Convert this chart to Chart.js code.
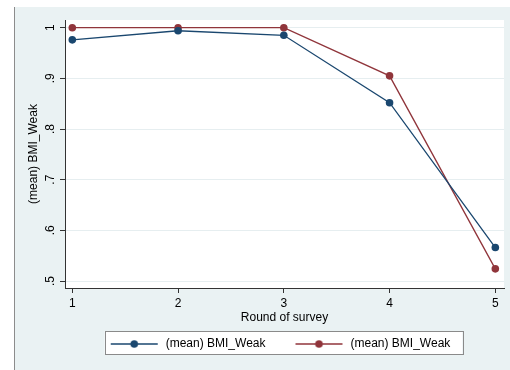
<!DOCTYPE html>
<html>
<head>
<meta charset="utf-8">
<script src="https://cdn.jsdelivr.net/npm/chart.js@4"></script>
<style>
    body { margin: 0; background: #fff; }
    #frame { position: absolute; left: 14px; top: 7px; width: 495px; height: 363px; background: #EAF2F3; border-left: 1px solid #8c8c8c; }
    canvas { display: block; }
</style>
</head>
<body>
<div id="frame"><canvas id="chart" width="495" height="363"></canvas></div>
<script>
// data
const rounds = [1, 2, 3, 4, 5];
const weakBlue = [0.976, 0.994, 0.985, 0.852, 0.566];
const weakRed = [1.0, 1.0, 1.0, 0.905, 0.524];
const seriesNames = ['(mean) BMI_Weak', '(mean) BMI_Weak'];
const yTickValues = [0.5, 0.6, 0.7, 0.8, 0.9, 1];
const yTickLabels = ['.5', '.6', '.7', '.8', '.9', '1'];
const xTickValues = [1, 2, 3, 4, 5];

const blue = '#1A476F';
const red = '#90353B';
const font = { family: '"Liberation Sans", Arial, sans-serif', size: 12 };

// stata style legend key: short line with a dot in the middle
function legendSymbol(color) {
    const c = document.createElement('canvas');
    c.width = 69;
    c.height = 10;
    const g = c.getContext('2d');
    g.strokeStyle = color;
    g.lineWidth = 1.3;
    g.beginPath();
    g.moveTo(20, 5);
    g.lineTo(67, 5);
    g.stroke();
    g.fillStyle = color;
    g.beginPath();
    g.arc(43.5, 5, 3.8, 0, Math.PI * 2);
    g.fill();
    return c;
}
const symbols = [legendSymbol(blue), legendSymbol(red)];

const toPoints = ys => rounds.map((r, i) => ({ x: r, y: ys[i] }));

const stataFrame = {
    id: 'stataFrame',
    afterLayout(chart) {
        // center legend row under the plot region
        const lg = chart.legend;
        const area = chart.chartArea;
        const shift = (area.left + area.right) / 2 - (lg.left + lg.right) / 2 - 14;
        lg.left += shift;
        lg.right += shift;
    },
    beforeDraw(chart) {
        const ctx = chart.ctx;
        const a = chart.chartArea;
        ctx.save();
        ctx.fillStyle = '#fff';
        ctx.fillRect(a.left, a.top, a.right - a.left, a.bottom - a.top);
        const hb = chart.legend.legendHitBoxes;
        if (hb && hb.length) {
            const first = hb[0];
            const last = hb[hb.length - 1];
            const x0 = first.left + 20 - 6;
            const x1 = last.left + last.width + 12;
            const y0 = first.top - 7;
            const y1 = first.top + first.height + 4;
            ctx.fillRect(x0, y0, x1 - x0, y1 - y0);
            ctx.strokeStyle = '#8a8a8a';
            ctx.lineWidth = 1;
            ctx.strokeRect(Math.round(x0) + 0.5, Math.round(y0) + 0.5, Math.round(x1 - x0), Math.round(y1 - y0));
        }
        ctx.restore();
    }
};

new Chart(document.getElementById('chart'), {
    type: 'line',
    data: {
        datasets: [
            {
                label: seriesNames[0],
                data: toPoints(weakBlue),
                borderColor: blue,
                backgroundColor: blue,
                borderWidth: 1.3,
                pointRadius: 3.8,
                pointBorderWidth: 0,
                tension: 0
            },
            {
                label: seriesNames[1],
                data: toPoints(weakRed),
                borderColor: red,
                backgroundColor: red,
                borderWidth: 1.3,
                pointRadius: 3.8,
                pointBorderWidth: 0,
                tension: 0
            }
        ]
    },
    options: {
        responsive: false,
        animation: false,
        events: [],
        layout: { padding: { top: 13, bottom: 10, left: 0, right: 6 } },
        scales: {
            x: {
                type: 'linear',
                min: 0.931,
                max: 5.082,
                afterBuildTicks: s => { s.ticks = xTickValues.map(v => ({ value: v })); },
                afterFit: s => { s.height = 40; },
                ticks: { color: '#000', font: font, padding: 3, callback: v => String(v) },
                grid: { drawOnChartArea: false, tickLength: 5, tickColor: '#333' },
                border: { color: '#333', width: 1 },
                title: { display: true, text: 'Round of survey', color: '#000', font: font, padding: { top: 0, bottom: 3 } }
            },
            y: {
                min: 0.4862,
                max: 1.0152,
                afterBuildTicks: s => { s.ticks = yTickValues.map(v => ({ value: v })); },
                afterFit: s => { s.width = 50; },
                ticks: {
                    color: '#000',
                    font: font,
                    padding: 4,
                    minRotation: 90,
                    maxRotation: 90,
                    crossAlign: 'center',
                    callback: v => yTickLabels[yTickValues.indexOf(v)]
                },
                grid: { color: '#E6EEF0', tickLength: 5, tickColor: '#333' },
                border: { color: '#333', width: 1 },
                title: { display: true, text: '(mean) BMI_Weak', color: '#000', font: font, padding: { top: 11, bottom: 0 } }
            }
        },
        plugins: {
            tooltip: { enabled: false },
            legend: {
                position: 'bottom',
                labels: {
                    usePointStyle: true,
                    pointStyleWidth: 69,
                    padding: 10,
                    color: '#000',
                    font: font,
                    generateLabels: chart => Chart.defaults.plugins.legend.labels.generateLabels(chart)
                        .map((item, i) => ({ ...item, pointStyle: symbols[i] }))
                }
            }
        }
    },
    plugins: [stataFrame]
});
</script>
</body>
</html>
